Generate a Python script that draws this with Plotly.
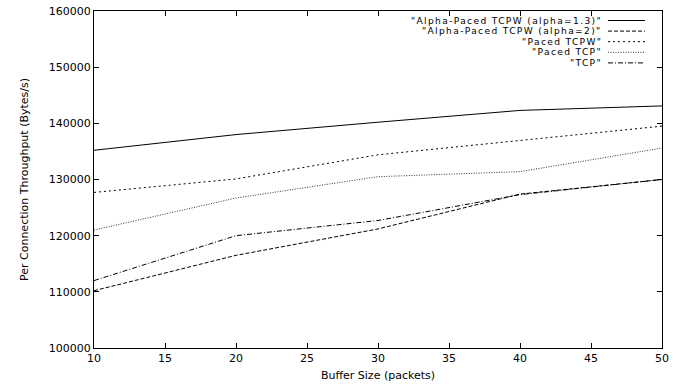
import plotly.graph_objects as go

buffer_sizes = [10, 20, 30, 40, 50]
alpha13 = [135200, 138000, 140200, 142300, 143100]
alpha2 = [110200, 116500, 121200, 127400, 130000]
paced_tcpw = [127700, 130100, 134400, 137000, 139500]
paced_tcp = [121000, 126700, 130500, 131400, 135600]
tcp = [112000, 120000, 122700, 127300, 130000]

series_names = ['"Alpha-Paced TCPW (alpha=1.3)"', '"Alpha-Paced TCPW (alpha=2)"',
                '"Paced TCPW"', '"Paced TCP"', '"TCP"']
series_values = [alpha13, alpha2, paced_tcpw, paced_tcp, tcp]
dashes = ["solid", "4px,2px", "2px,3px", "1px,1.5px", "5px,2px,1px,2px"]
colors = ["#000000", "#000000", "#000000", "#333333", "#000000"]

FONT = "DejaVu Sans, Liberation Sans, Arial"

fig = go.Figure()
for name, vals, d, c in zip(series_names, series_values, dashes, colors):
    fig.add_trace(go.Scatter(x=buffer_sizes, y=vals, mode="lines", name=name,
                             line=dict(color=c, width=1, dash=d), showlegend=False))

W, H = 683, 385
ml, mr, mt, mb = 94, 21, 11, 37
pw, ph = W - ml - mr, H - mt - mb

# gnuplot-style key: right-aligned texts, line samples to their right
row_gap = 10.6
row_y = [20.5 + i * row_gap for i in range(len(series_names))]
text_right = 603
sx0, sx1 = 608, 645
for name, d, c, ry in zip(series_names, dashes, colors, row_y):
    yp = 1 - (ry - mt) / ph
    fig.add_annotation(x=(text_right - ml) / pw, y=yp, xref="paper", yref="paper",
                       text='<span style="letter-spacing:1.35px">%s</span>' % name,
                       showarrow=False, xanchor="right", yanchor="middle", borderpad=0,
                       font=dict(size=9.1, color="black", family=FONT))
    fig.add_shape(type="line", xref="paper", yref="paper",
                  x0=(sx0 - ml) / pw, x1=(sx1 - ml) / pw, y0=yp, y1=yp,
                  line=dict(color=c, width=1, dash=d))

axis_common = dict(showgrid=False, zeroline=False, showline=True, linecolor="black",
                   linewidth=1, mirror="ticks", ticks="inside", ticklen=5,
                   tickcolor="black", tickwidth=1, automargin=False,
                   tickfont=dict(size=11, color="black", family=FONT))

fig.update_layout(
    width=W, height=H,
    margin=dict(l=ml, r=mr, t=mt, b=mb),
    plot_bgcolor="white", paper_bgcolor="white",
    font=dict(family=FONT, color="black", size=11),
    xaxis=dict(range=[10, 50], dtick=5, tick0=10,
               title=dict(text="Buffer Size (packets)", standoff=7,
                          font=dict(size=11, family=FONT)), **axis_common),
    yaxis=dict(range=[100000, 160000], dtick=10000, tickformat="d",
               title=dict(text="Per Connection Throughput (Bytes/s)", standoff=17,
                          font=dict(size=11, family=FONT)), **axis_common),
)

fig.write_html("out.html", config={"displayModeBar": False},
               post_script="document.body.style.margin='0';")
